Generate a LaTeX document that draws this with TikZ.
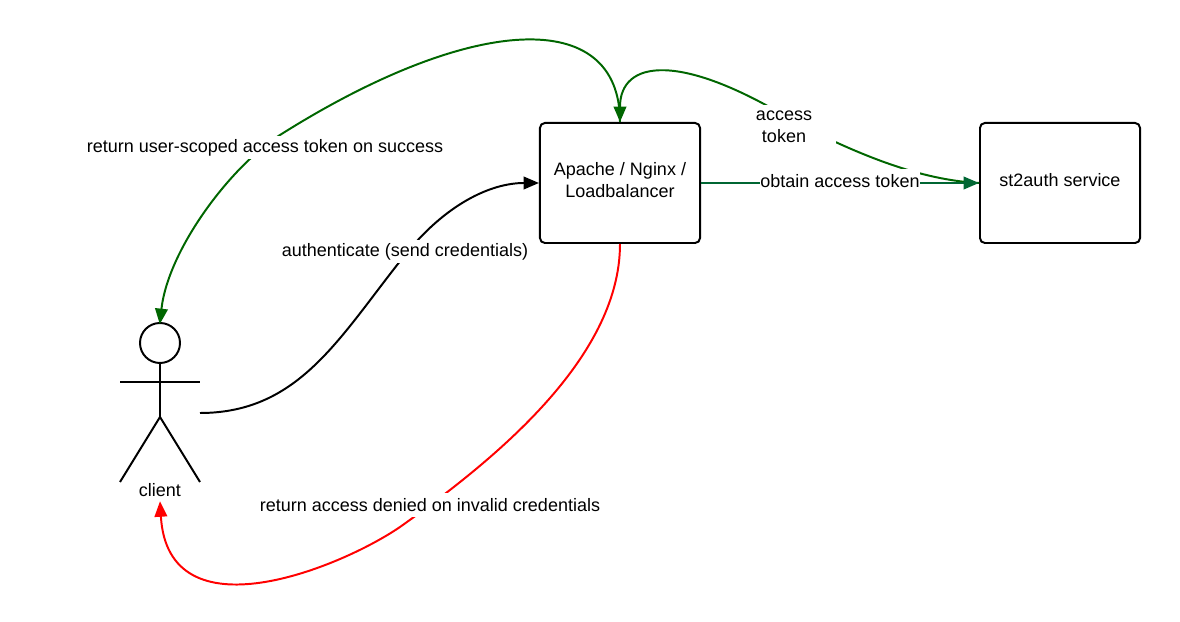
\documentclass[tikz,border=0pt]{standalone}
\usepackage{fontspec}
\setmainfont{Liberation Sans}
\usetikzlibrary{arrows.meta,positioning}
\definecolor{okgreen}{RGB}{0,102,0}
\definecolor{tokgreen}{RGB}{0,102,51}
\tikzset{
	boxnode/.style={draw,line width=1.4pt,rounded corners=3.5pt,minimum width=4cm,minimum height=3cm,inner sep=0pt},
	boxtext/.style={align=center,inner sep=0pt},
	linktext/.style={fill=white,inner sep=0pt,align=center,minimum height=0.575cm},
	link/.style={line width=1.4pt,-{Triangle[length=11pt,width=9pt]}},
	stick/.style={line width=1.4pt}
}
\begin{document}
\begin{tikzpicture}[x=0.025cm,y=-0.025cm,font=\fontsize{12.8}{15.6}\selectfont]
		\useasboundingbox (0,0) rectangle (1180,622);
		\node[boxnode] (lb) at (620,183) {};
		\node[boxnode] (authsvc) at (1060,183) {};
		\node[boxtext] (lbtext) at (620,180) {Apache / Nginx /\\Loadbalancer};
		\node[boxtext] (authtext) at (1060,180) {st2auth service};
		\node[circle,draw,line width=1.4pt,minimum size=1cm,inner sep=0pt] (head) at (160,343) {};
		\coordinate (hip) at (160,417);
		\coordinate (hand) at (200,413);
		\node[minimum height=0.55cm,inner sep=0pt] (client) at (160,490) {client};
		\draw[stick] (head.south) -- (hip);
		\draw[stick] (120,382) -- (200,382);
		\draw[stick] (120,482) -- (hip) -- (200,482);
		\draw[link,okgreen,shorten >=-1.5pt] (lb.north) .. controls (620,5) and (470,15) .. (280,135) .. controls (230,167) and (168,250) .. (head.north);
		\draw[link,okgreen] (authsvc.west) .. controls (920,180) and (860,155) .. (800,125) .. controls (680,50) and (620,60) .. (lb.north);
		\draw[link,tokgreen] (lb.east) -- (authsvc.west);
		\draw[link,black] (hand) .. controls (300,413) and (340,336) .. (405,255) .. controls (445,205) and (490,183) .. (lb.west);
		\draw[link,red] (lb.south) .. controls (620,360) and (490,463) .. (400,527) .. controls (340,568) and (168,638) .. (client.south);
		\node[linktext] (retok) at (265,148) {return user-scoped access token on success};
		\node[linktext,minimum width=2.6cm,minimum height=1.1cm] (tokenlbl) at (784,127) {access\\token};
		\node[linktext] (obtain) at (840,181) {obtain access token};
		\node[linktext] (authn) at (405,252) {authenticate (send credentials)};
		\node[linktext] (denied) at (430,505) {return access denied on invalid credentials};
\end{tikzpicture}
\end{document}
